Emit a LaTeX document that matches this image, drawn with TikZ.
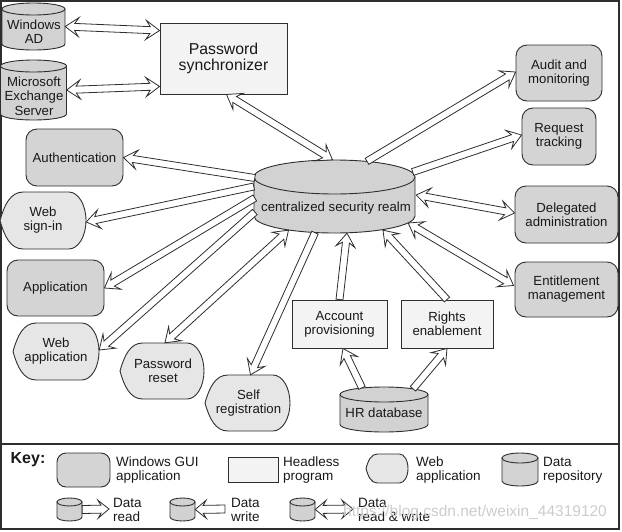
\documentclass[tikz,border=0pt]{standalone}
\usepackage{fontspec}
\setmainfont{Liberation Sans}
\usetikzlibrary{calc}
\definecolor{edge}{HTML}{2E2E2E}
\definecolor{guifill}{HTML}{D4D4D4}
\definecolor{webfill}{HTML}{E6E6E6}
\definecolor{hlfill}{HTML}{F3F3F3}
\definecolor{dbfill}{HTML}{D2D2D2}
\def\FAs{3.5pt}\def\FAh{9.5pt}\def\FAl{13.5pt}\def\FAn{9.5pt}
\newcommand\fatarrow[2]{%
  \coordinate (fa1) at #1; \coordinate (fa2) at #2;
  \coordinate (fab) at ($(fa2)!\FAl!(fa1)$);
  \coordinate (fan) at ($(fa2)!\FAn!(fa1)$);
  \path[fatarr] ($(fa1)!\FAs!90:(fa2)$) -- ($(fan)!\FAs!90:(fa2)$) -- ($(fab)!\FAh!90:(fa2)$) -- (fa2)
     -- ($(fab)!\FAh!-90:(fa2)$) -- ($(fan)!\FAs!-90:(fa2)$) -- ($(fa1)!\FAs!-90:(fa2)$) -- cycle;}
\newcommand\fatdarrow[2]{%
  \coordinate (fa1) at #1; \coordinate (fa2) at #2;
  \coordinate (fab) at ($(fa2)!\FAl!(fa1)$); \coordinate (fan) at ($(fa2)!\FAn!(fa1)$);
  \coordinate (fac) at ($(fa1)!\FAl!(fa2)$); \coordinate (fam) at ($(fa1)!\FAn!(fa2)$);
  \path[fatarr] (fa1) -- ($(fac)!\FAh!90:(fa2)$) -- ($(fam)!\FAs!90:(fa2)$) -- ($(fan)!\FAs!90:(fa2)$)
     -- ($(fab)!\FAh!90:(fa2)$) -- (fa2) -- ($(fab)!\FAh!-90:(fa2)$) -- ($(fan)!\FAs!-90:(fa2)$)
     -- ($(fam)!\FAs!-90:(fa2)$) -- ($(fac)!\FAh!-90:(fa2)$) -- cycle;}
% web application shape: cx cy w h
\newcommand\webshape[4]{%
  \path[webst] ({#1-#3/2},{#2})
   .. controls ({#1-#3/2+0.05*#3},{#2-0.27*#4}) and ({#1-#3/2+0.12*#3},{#2-#4/2}) .. ({#1-#3/2+0.27*#3},{#2-#4/2})
   -- ({#1+#3/2-0.2*#3},{#2-#4/2})
   .. controls ({#1+#3/2-0.09*#3},{#2-#4/2}) and ({#1+#3/2},{#2-0.276*#4}) .. ({#1+#3/2},{#2})
   .. controls ({#1+#3/2},{#2+0.276*#4}) and ({#1+#3/2-0.09*#3},{#2+#4/2}) .. ({#1+#3/2-0.2*#3},{#2+#4/2})
   -- ({#1-#3/2+0.27*#3},{#2+#4/2})
   .. controls ({#1-#3/2+0.12*#3},{#2+#4/2}) and ({#1-#3/2+0.05*#3},{#2+0.27*#4}) .. ({#1-#3/2},{#2}) -- cycle;}
% cylinder: cx cy w h ry
\newcommand\cylshape[5]{%
  \path[cylst] ({#1-#3/2},{#2-#4/2+#5}) -- ({#1-#3/2},{#2+#4/2-#5})
     .. controls ({#1-#3/2},{#2+#4/2-#5+0.552*#5}) and ({#1-0.276*#3},{#2+#4/2}) .. ({#1},{#2+#4/2})
     .. controls ({#1+0.276*#3},{#2+#4/2}) and ({#1+#3/2},{#2+#4/2-#5+0.552*#5}) .. ({#1+#3/2},{#2+#4/2-#5})
     -- ({#1+#3/2},{#2-#4/2+#5}) -- cycle;
  \path[cylst] ({#1},{#2-#4/2+#5}) ellipse[x radius={#3/2}, y radius={#5}];}
\tikzset{
  gui/.style={rectangle, draw=edge, fill=guifill, line width=0.9pt, rounded corners=11pt},
  hl/.style={rectangle, draw=edge, fill=hlfill, line width=0.9pt},
  webst/.style={draw=edge, fill=webfill, line width=0.9pt},
  cylst/.style={draw=edge, fill=dbfill, line width=0.9pt},
  fatarr/.style={draw=edge, fill=white, line width=0.8pt, line join=miter},
  sz/.style 2 args={minimum width=#1pt, minimum height=#2pt},
  keytext/.style={anchor=west, align=left, font=\fontsize{13.5}{14}\selectfont}
}
\begin{document}
\begin{tikzpicture}[x=1pt,y=-1pt,
  every node/.style={inner sep=0pt, align=center, text=black!90, font=\fontsize{13.2}{14}\selectfont}]
\useasboundingbox (0,0) rectangle (622,531);
\draw[edge, line width=1.4pt] (1,1) rectangle (619,529);
\draw[edge, line width=1.2pt] (1,444) -- (619,444);

% ---- data repositories
\cylshape{33.5}{26.5}{63}{47}{6}
\node[sz={63}{47}] (ad) at (33.5,26.5) {};
\node (adt) at (34,32) {Windows\\AD};
\cylshape{33.5}{90}{66}{60}{6}
\node[sz={66}{60}] (ex) at (33.5,90) {};
\node[font=\fontsize{13.2}{14.5}\selectfont] (ext) at (34,96) {Microsoft\\Exchange\\Server};
\cylshape{334.5}{196.5}{161}{73}{17}
\node[sz={161}{73}] (central) at (334.5,196.5) {};
\node (centralt) at (336,208) {centralized security realm};
\cylshape{384}{409.5}{88}{45}{7.5}
\node[sz={88}{45}] (hr) at (384,409.5) {};
\node (hrt) at (384,413) {HR database};

% ---- headless programs
\node[hl, sz={127}{71}, font=\fontsize{15.8}{16}\selectfont] (ps) at (223.5,58.5) {Password\\synchronizer};
\node[hl, sz={95}{48}] (acc) at (339.5,324) {Account\\provisioning};
\node[hl, sz={92}{48}] (rights) at (447,324) {Rights\\enablement};

% ---- windows GUI apps
\node[gui, sz={97}{57}] (auth) at (74.5,157.5) {Authentication};
\node[gui, sz={97}{56}] (app) at (55.5,288) {Application};
\node[gui, sz={86}{56}] (audit) at (559,73) {Audit and\\monitoring};
\node[gui, sz={74}{57}] (req) at (559,136.5) {Request\\tracking};
\node[gui, sz={103}{57}] (deleg) at (566.5,214.5) {Delegated\\administration};
\node[gui, sz={103}{55}] (ent) at (566.5,289.5) {Entitlement\\management};

% ---- web applications
\webshape{43}{220.5}{86}{57}
\node[sz={86}{57}] (wsi) at (43,220.5) {Web\\sign-in};
\webshape{56}{351.5}{86}{57}
\node[sz={86}{57}] (wapp) at (56,351.5) {Web\\application};
\webshape{162}{371}{84}{56}
\node[sz={84}{56}] (pwr) at (163,371) {Password\\reset};
\webshape{247.5}{403}{85}{56}
\node[sz={85}{56}] (selfreg) at (248.5,403) {Self\\registration};

% ---- connectors
\fatdarrow{(ad.east)}{($(ps.north west)+(0,8)$)}
\fatdarrow{(ex.east)}{($(ps.south west)+(0,-8)$)}
\fatdarrow{($(ps.south)+(3,0)$)}{($(central.north)+(-2,0)$)}
\fatarrow{($(central.west)+(1,-18.5)$)}{(auth.east)}
\fatarrow{($(central.west)+(0,-10)$)}{($(wsi.east)+(0,1.5)$)}
\fatarrow{($(central.west)+(1,1.5)$)}{(app.east)}
\fatarrow{($(central.west)+(1,15.5)$)}{($(wapp.east)+(0,-1.5)$)}
\fatdarrow{($(pwr.north)+(2,0)$)}{($(central.south)+(-46,-3)$)}
\fatarrow{($(central.south)+(-19.5,-0.5)$)}{($(selfreg.north)+(2,0)$)}
\fatarrow{(acc.north)}{($(central.south)+(12.5,0)$)}
\fatarrow{(rights.north)}{($(central.south)+(48.5,-3)$)}
\fatarrow{($(hr.north)+(-22,1)$)}{($(acc.south)+(3.5,0)$)}
\fatarrow{($(hr.north)+(29,2)$)}{(rights.south)}
\fatdarrow{($(central.east)+(-7,26.5)$)}{($(ent.west)+(-1,-4)$)}
\fatdarrow{($(central.east)+(1,-1.5)$)}{($(deleg.west)+(0,-1.5)$)}
\fatarrow{($(central.east)+(-2.5,-24.5)$)}{($(req.west)+(0,-1.5)$)}
\fatarrow{($(central.north)+(32.5,1.5)$)}{($(audit.west)+(0,-1)$)}

% ---- key
\node[font=\bfseries\fontsize{16}{18}\selectfont] (key) at (28,460) {Key:};
\node[gui, rounded corners=9pt, sz={53}{34}] (kgui) at (83.5,470) {};
\node[keytext] (kguit) at (116,470) {Windows GUI\\application};
\node[hl, sz={50}{25}] (khl) at (253,469.5) {};
\node[keytext] (khlt) at (283,470) {Headless\\program};
\webshape{387}{468.5}{42}{29}
\node[sz={42}{29}] (kweb) at (387,468.5) {};
\node[keytext] (kwebt) at (416,470) {Web\\application};
\cylshape{520}{469.5}{36}{33}{5}
\node[sz={36}{33}] (kdb) at (520,469.5) {};
\node[keytext] (kdbt) at (543,470) {Data\\repository};

\def\FAs{4pt}\def\FAh{9pt}\def\FAl{11pt}\def\FAn{8pt}
\cylshape{69.5}{509.5}{25}{23}{4}
\node[sz={25}{23}] (kr) at (69.5,509.5) {};
\coordinate (krt) at (109,509);
\fatarrow{(kr.east)}{(krt)}
\node[keytext] (krtxt) at (113,510) {Data\\read};
\cylshape{182.5}{509.5}{25}{23}{4}
\node[sz={25}{23}] (kw) at (182.5,509.5) {};
\coordinate (kwt) at (225,509);
\fatarrow{(kwt)}{(kw.east)}
\node[keytext] (kwtxt) at (231,510) {Data\\write};
\cylshape{302.5}{509.5}{25}{23}{4}
\node[sz={25}{23}] (krw) at (302.5,509.5) {};
\coordinate (krwt) at (353,509);
\fatdarrow{(krw.east)}{(krwt)}
\node[keytext] (krwtxt) at (358,510) {Data\\read \& write};

\node[anchor=west, text=gray!40, font=\fontsize{15.5}{16}\selectfont] (wm) at (343,512) {https://blog.csdn.net/weixin\_44319120};
\end{tikzpicture}
\end{document}
